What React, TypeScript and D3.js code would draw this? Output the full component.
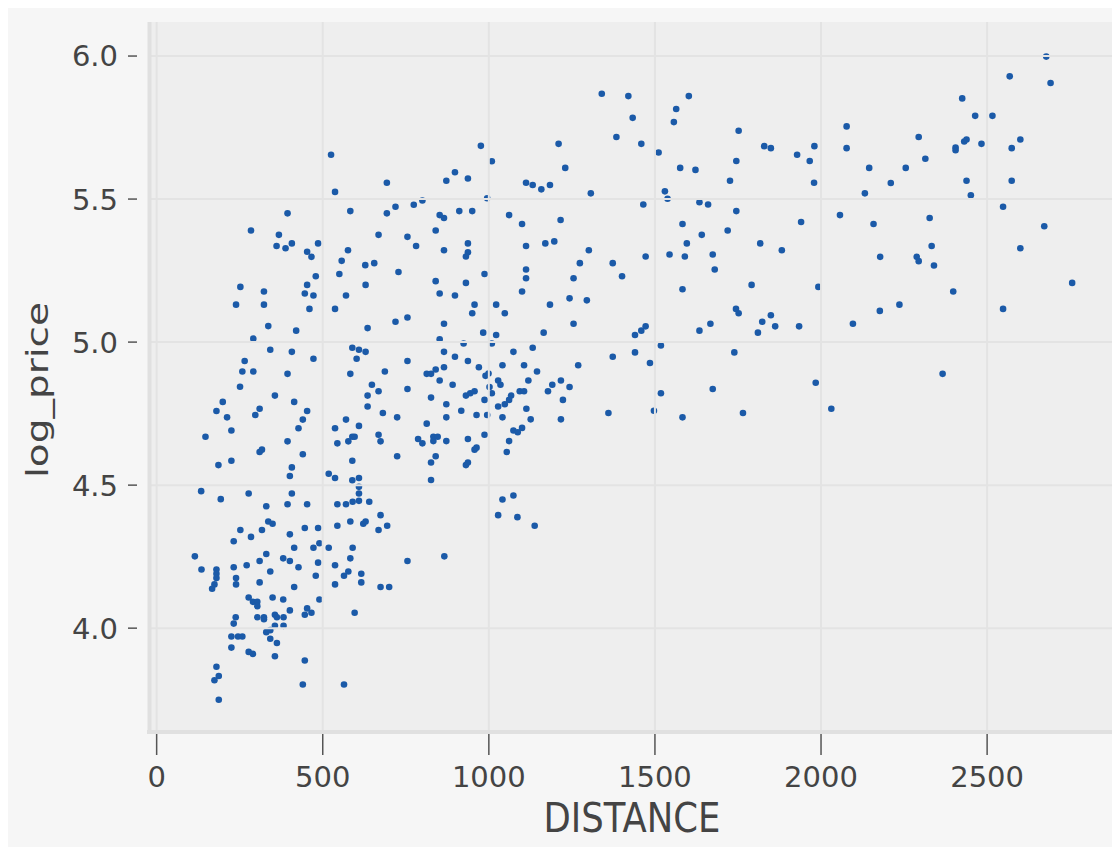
import React from "react";
import * as d3 from "d3";

// DISTANCE values
const distance: number[] = [
  525, 693, 537, 394, 583, 693, 719, 284, 368, 361, 388, 407, 453, 466, 486, 576, 668, 557, 628, 655, 550, 479, 728,
  1340, 1384, 976, 1009, 1210, 1230, 898, 872, 937, 1112, 1132, 1158, 1184, 1307, 995, 774, 800, 852, 865, 911, 950, 1061, 1100, 1216, 755, 840, 781, 865, 937, 937, 931, 1112, 1170, 1197, 1301, 1274, 1373, 987, 1112, 1112, 1255,
  1420, 1602, 1564, 1433, 1557, 1752, 1459, 1511, 1829, 1849, 1928, 1980, 1966, 2077, 2077, 1745, 1576, 1622, 1726, 1979, 1530, 1538, 1465, 1634, 1660, 1745, 2057, 1940, 1583, 1641, 1719, 1596, 1817, 1882, 1472, 1544, 1590, 1674, 1680, 1401,
  2678, 2568, 2691, 2425, 2464, 2516, 2294, 2405, 2405, 2431, 2438, 2483, 2600, 2574, 2314, 2145, 2255, 2210, 2132, 2438, 2574, 2451, 2548, 2158, 2327, 2672, 2333, 2600, 2178, 2288, 2294, 2340,
  252, 323, 453, 446, 472, 239, 323, 460, 537, 570, 629, 719, 635, 336, 420, 291, 342, 407, 265, 472, 258, 291, 394, 251, 356, 199, 180, 212, 310, 297, 414, 453, 440, 427, 225, 147, 394, 310, 317, 440, 186, 225, 407, 401, 134, 193, 277, 407,
  589, 609, 629, 602, 687, 583, 648, 668, 635, 635, 681, 724, 570, 537, 609, 589, 596, 577, 544, 668, 674, 724, 589, 518, 537, 589, 609, 609, 609,
  840, 931, 852, 898, 1100, 957, 950, 1022, 1048, 1184, 1243, 1295, 1255, 1165, 755, 865, 983, 1022, 852, 924, 1009, 1074, 1132, 1373, 755, 865, 898, 937, 970, 1041, 1106, 1145, 1269, 865, 840, 813, 826, 990, 999, 852, 891, 1028, 1035, 1119, 1191, 1217, 1243, 1178, 755, 1002, 1009, 931, 944, 957, 1093, 1106, 1067, 1061, 826, 987, 872, 1048, 1028, 1113, 1223, 917, 872, 963, 995, 1041, 1126, 1217, 1360, 813, 1074, 1087, 1100, 987, 787, 800, 833, 846, 833, 872, 937, 1061, 957, 963, 1054, 840, 826, 931, 937, 826, 1041, 1074,
  1028, 1086, 1138, 755, 866,
  1583, 1791, 1992, 1744, 1752, 1849, 1823, 1862, 1810, 1934, 2096, 1667, 1634, 1472, 1459, 1440, 1440, 1518, 1485, 1739, 1984, 1674, 1518, 1497, 1583, 1765, 2031,
  2177, 2236, 2398, 2548, 2756, 2366,
  330, 394, 453, 544, 570, 590, 609, 640, 674, 336, 349, 252, 317, 284, 232, 401, 446, 486, 544, 583, 622, 629, 668, 694, 115, 135, 180, 180, 180, 174, 167, 232, 239, 239, 271, 310, 330, 310, 342, 381, 401, 414, 427, 414, 472, 490, 518, 486, 479, 537, 590, 583, 577, 564, 537, 616, 616, 674, 700, 277, 290, 303, 303, 349, 381, 490, 401, 453, 466, 446, 596, 238, 232, 303, 323, 323, 356, 362, 382, 356, 382, 225, 245, 258, 225, 330, 342, 342, 362, 277, 290, 356, 446, 180, 187, 174, 440, 564, 187,
];

// log_price values, parallel to distance
const logPrice: number[] = [
  5.655, 5.557, 5.525, 5.45, 5.458, 5.45, 5.473, 5.39, 5.375, 5.336, 5.328, 5.345, 5.316, 5.298, 5.345, 5.321, 5.375, 5.284, 5.269, 5.276, 5.238, 5.23, 5.245,
  5.868, 5.717, 5.686, 5.632, 5.693, 5.609, 5.594, 5.564, 5.572, 5.557, 5.549, 5.534, 5.549, 5.52, 5.503, 5.48, 5.495, 5.444, 5.434, 5.458, 5.458, 5.444, 5.413, 5.427, 5.368, 5.39, 5.336, 5.321, 5.345, 5.314, 5.299, 5.336, 5.345, 5.352, 5.321, 5.276, 5.276, 5.238, 5.254, 5.223, 5.223,
  5.86, 5.86, 5.815, 5.784, 5.769, 5.739, 5.693, 5.663, 5.685, 5.678, 5.655, 5.685, 5.633, 5.754, 5.678, 5.633, 5.609, 5.602, 5.564, 5.557, 5.527, 5.501, 5.481, 5.489, 5.481, 5.458, 5.444, 5.42, 5.413, 5.375, 5.39, 5.345, 5.345, 5.321, 5.299, 5.306, 5.299, 5.306, 5.254, 5.23,
  5.998, 5.929, 5.906, 5.852, 5.791, 5.791, 5.717, 5.671, 5.68, 5.701, 5.708, 5.693, 5.708, 5.678, 5.641, 5.609, 5.609, 5.556, 5.52, 5.564, 5.564, 5.513, 5.473, 5.413, 5.434, 5.405, 5.336, 5.328, 5.298, 5.298, 5.283, 5.268,
  5.193, 5.177, 5.2, 5.17, 5.163, 5.131, 5.131, 5.116, 5.116, 5.163, 5.2, 5.071, 5.049, 5.056, 5.04, 5.012, 4.973, 4.966, 4.934, 4.942, 4.897, 4.897, 4.889, 4.844, 4.813, 4.791, 4.759, 4.737, 4.767, 4.745, 4.791, 4.759, 4.729, 4.699, 4.691, 4.669, 4.653, 4.616, 4.624, 4.608, 4.57, 4.585, 4.562, 4.532, 4.479, 4.451, 4.471, 4.471,
  4.98, 4.973, 4.966, 4.942, 4.897, 4.889, 4.851, 4.828, 4.813, 4.775, 4.752, 4.737, 4.729, 4.699, 4.707, 4.669, 4.669, 4.653, 4.646, 4.676, 4.653, 4.601, 4.585, 4.54, 4.525, 4.517, 4.525, 4.494, 4.471,
  5.213, 5.207, 5.17, 5.163, 5.177, 5.131, 5.101, 5.131, 5.101, 5.131, 5.153, 5.146, 5.064, 5.033, 5.086, 5.064, 5.033, 5.025, 5.01, 4.995, 4.995, 4.966, 4.98, 4.949, 4.934, 4.966, 4.949, 4.934, 4.912, 4.919, 4.919, 4.897, 4.919, 4.912, 4.904, 4.889, 4.889, 4.882, 4.89, 4.866, 4.851, 4.866, 4.851, 4.866, 4.851, 4.866, 4.843, 4.828, 4.836, 4.843, 4.821, 4.813, 4.821, 4.828, 4.828, 4.828, 4.813, 4.798, 4.806, 4.798, 4.783, 4.783, 4.775, 4.767, 4.798, 4.76, 4.737, 4.745, 4.745, 4.737, 4.73, 4.73, 4.752, 4.715, 4.691, 4.685, 4.7, 4.676, 4.661, 4.646, 4.669, 4.669, 4.654, 4.654, 4.661, 4.654, 4.624, 4.631, 4.616, 4.601, 4.579, 4.57, 4.579, 4.518, 4.45, 4.464,
  4.395, 4.388, 4.358, 4.235, 4.251,
  5.185, 5.2, 5.193, 5.116, 5.101, 5.094, 5.071, 5.055, 5.033, 5.055, 5.064, 5.064, 5.04, 5.055, 5.04, 5.025, 4.964, 4.988, 4.927, 4.964, 4.858, 4.836, 4.821, 4.76, 4.737, 4.752, 4.767,
  5.109, 5.131, 5.177, 5.116, 5.207, 4.889,
  4.426, 4.433, 4.433, 4.433, 4.433, 4.442, 4.445, 4.442, 4.395, 4.373, 4.365, 4.343, 4.343, 4.319, 4.304, 4.328, 4.35, 4.35, 4.358, 4.373, 4.365, 4.373, 4.343, 4.358, 4.251, 4.205, 4.205, 4.19, 4.175, 4.153, 4.138, 4.213, 4.175, 4.153, 4.22, 4.235, 4.259, 4.16, 4.198, 4.244, 4.235, 4.281, 4.213, 4.144, 4.281, 4.297, 4.281, 4.229, 4.183, 4.22, 4.281, 4.244, 4.198, 4.183, 4.153, 4.19, 4.16, 4.144, 4.144, 4.107, 4.092, 4.092, 4.077, 4.107, 4.1, 4.1, 4.062, 4.069, 4.054, 4.047, 4.054, 4.038, 4.016, 4.038, 4.038, 4.031, 4.047, 4.038, 4.038, 4.008, 4.008, 3.971, 3.971, 3.971, 3.932, 3.986, 3.993, 3.963, 3.948, 3.917, 3.91, 3.902, 3.887, 3.865, 3.833, 3.818, 3.803, 3.803, 3.75,
];

const xTicks: number[] = [0, 500, 1000, 1500, 2000, 2500];
const yTicks: number[] = [4.0, 4.5, 5.0, 5.5, 6.0];
const xTitle = "DISTANCE";
const yTitle = "log_price";

const W = 1112;
const H = 839;
const FONT = "'DejaVu Sans', Verdana, sans-serif";

export default function App() {
  const plotLeft = 140;
  const plotRight = 1112;
  const plotTop = 14;
  const plotBottom = 724;

  const x = d3.scaleLinear().domain([-14, 2900]).range([144, 1112]);
  const y = d3.scaleLinear().domain([3.637, 6.119]).range([724, 14]);

  const points = distance.map((d, i) => ({ d, v: logPrice[i] }));

  return (
    <svg width={W} height={H} style={{ display: "block", background: "#f6f6f6" }} fontFamily={FONT}>
      <rect x={plotLeft} y={plotTop} width={plotRight - plotLeft} height={plotBottom - plotTop} fill="#eeeeee" />
      {/* points */}
      <g fill="#1b5aa8">
        {points.map((p, i) => (
          <circle key={i} cx={x(p.d)} cy={y(p.v)} r={3.3} />
        ))}
      </g>
      {/* gridlines drawn over points */}
      <g stroke="#e3e3e3" strokeWidth={2}>
        {xTicks.map((t) => (
          <line key={"gx" + t} x1={x(t)} x2={x(t)} y1={plotTop} y2={plotBottom} />
        ))}
        {yTicks.map((t) => (
          <line key={"gy" + t} x1={plotLeft} x2={plotRight} y1={y(t)} y2={y(t)} />
        ))}
      </g>
      {/* domain bands */}
      <line x1={141.5} x2={141.5} y1={plotTop} y2={plotBottom + 2} stroke="#e0e0e0" strokeWidth={4} />
      <line x1={139} x2={plotRight} y1={plotBottom} y2={plotBottom} stroke="#e0e0e0" strokeWidth={4} />
      {/* y ticks */}
      <g>
        {yTicks.map((t) => (
          <g key={"yt" + t}>
            <line x1={120} x2={129} y1={y(t)} y2={y(t)} stroke="#555" strokeWidth={1.5} />
            <text x={110} y={y(t) + 0.36 * 29} fontSize={29} textAnchor="end" fill="#444">
              {d3.format(".1f")(t)}
            </text>
          </g>
        ))}
      </g>
      {/* x ticks */}
      <g>
        {xTicks.map((t) => (
          <g key={"xt" + t}>
            <line x1={x(t)} x2={x(t)} y1={726} y2={747} stroke="#555" strokeWidth={1.5} />
            <text x={x(t)} y={779} fontSize={29} textAnchor="middle" fill="#444">
              {String(t)}
            </text>
          </g>
        ))}
      </g>
      <text x={624} y={824} fontSize={41} textAnchor="middle" fill="#444" textLength={177} lengthAdjust="spacingAndGlyphs">
        {xTitle}
      </text>
      <text transform="translate(40,382) rotate(-90)" fontSize={30} textAnchor="middle" fill="#444" textLength={176} lengthAdjust="spacingAndGlyphs">
        {yTitle}
      </text>
    </svg>
  );
}
